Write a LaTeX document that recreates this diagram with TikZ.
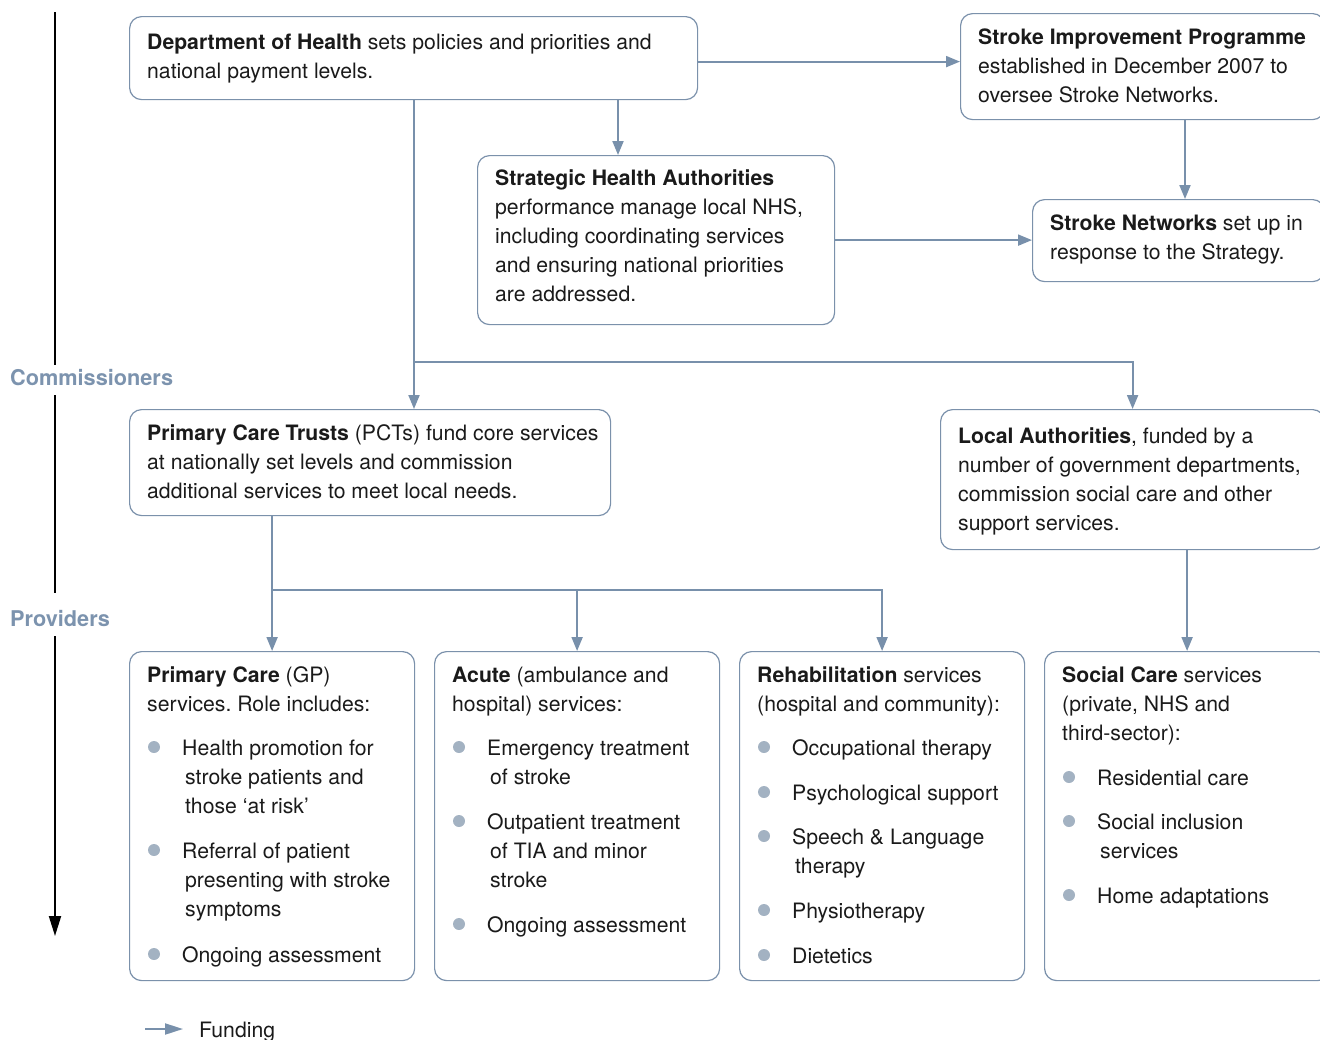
\documentclass[tikz,border=0pt]{standalone}
\usepackage{fontspec}
\setmainfont{TeX Gyre Heros}
\usetikzlibrary{arrows.meta}
\frenchspacing
\definecolor{bord}{HTML}{7B91AB}
\definecolor{arrc}{HTML}{7890AB}
\definecolor{labc}{HTML}{7C93AE}
\definecolor{bulc}{HTML}{A3B2C2}
\definecolor{txtc}{HTML}{1A1A1A}
\tikzset{
  box/.style={draw=bord, line width=1.2pt, rounded corners=12pt, anchor=north west, inner sep=0pt},
  txt/.style={anchor=base west, inner sep=0pt, align=left, text=txtc, font=\fontsize{21.2}{29}\selectfont\frenchspacing},
  flow/.style={draw=arrc, line width=2pt, -{Triangle[length=14pt,width=11pt]}},
  axis/.style={draw=black, line width=2pt},
  sidelab/.style={anchor=west, inner sep=0pt, text=labc, font=\fontsize{21.7}{24}\selectfont\bfseries},
  dot/.style={fill=bulc},
}
\newcommand{\cl}{\hspace*{3pt}}
\begin{document}
\begin{tikzpicture}[x=1pt,y=-1pt]
\useasboundingbox (0,0) rectangle (1320,1039);
\clip (0,0) rectangle (1320,1039);

% boxes
\node[box, minimum width=568, minimum height=83] (doh) at (129,16) {};
\node[box, minimum width=364, minimum height=106] (sip) at (960,13) {};
\node[box, minimum width=357, minimum height=169] (sha) at (477,155) {};
\node[box, minimum width=292, minimum height=82] (sn) at (1032,199) {};
\node[box, minimum width=481, minimum height=106] (pct) at (129,409) {};
\node[box, minimum width=384, minimum height=140] (la) at (940,409) {};
\node[box, minimum width=285, minimum height=329] (pc) at (129,651) {};
\node[box, minimum width=285, minimum height=329] (ac) at (434,651) {};
\node[box, minimum width=285, minimum height=329] (rh) at (739,651) {};
\node[box, minimum width=285, minimum height=329] (sc) at (1044,651) {};

% box texts (anchor = baseline of last line)
\node[txt] (tdoh) at (147,78) {\textbf{Department of Health} sets policies and priorities and\\national payment levels.};
\node[txt] (tsip) at (978,102) {\textbf{Stroke Improvement Programme}\\established in December 2007 to\\oversee Stroke Networks.};
\node[txt] (tsha) at (495,301) {\textbf{Strategic Health Authorities}\\performance manage local NHS,\\including coordinating services\\and ensuring national priorities\\are addressed.};
\node[txt] (tsn) at (1050,259) {\textbf{Stroke Networks} set up in\\response to the Strategy.};
\node[txt] (tpct) at (147,498) {\textbf{Primary Care Trusts} (PCTs) fund core services\\at nationally set levels and commission\\additional services to meet local needs.};
\node[txt] (tla) at (958,530) {\textbf{Local Authorities}, funded by a\\number of government departments,\\commission social care and other\\support services.};

\node[txt] (tpc) at (147,711) {\textbf{Primary Care} (GP)\\services. Role includes:};
\node[txt] (pc1) at (182,813) {Health promotion for\\\cl stroke patients and\\\cl those ‘at risk’};
\node[txt] (pc2) at (182,916) {Referral of patient\\\cl presenting with stroke\\\cl symptoms};
\node[txt] (pc3) at (182,962) {Ongoing assessment};
\foreach \yy in {747,850,954} \fill[dot] (154,\yy) circle (6);

\node[txt] (tac) at (452,711) {\textbf{Acute} (ambulance and\\hospital) services:};
\node[txt] (ac1) at (487,784) {Emergency treatment\\\cl of stroke};
\node[txt] (ac2) at (487,887) {Outpatient treatment\\\cl of TIA and minor\\\cl stroke};
\node[txt] (ac3) at (487,932) {Ongoing assessment};
\foreach \yy in {747,821,924} \fill[dot] (459,\yy) circle (6);

\node[txt] (trh) at (757,711) {\textbf{Rehabilitation} services\\(hospital and community):};
\node[txt] (rh1) at (792,755) {Occupational therapy};
\node[txt] (rh2) at (792,800) {Psychological support};
\node[txt] (rh3) at (792,873) {Speech \& Language\\\cl therapy};
\node[txt] (rh4) at (792,918) {Physiotherapy};
\node[txt] (rh5) at (792,963) {Dietetics};
\foreach \yy in {747,792,836,910,955} \fill[dot] (764,\yy) circle (6);

\node[txt] (tsc) at (1062,740) {\textbf{Social Care} services\\(private, NHS and\\third-sector):};
\node[txt] (sc1) at (1097,785) {Residential care};
\node[txt] (sc2) at (1097,858) {Social inclusion\\\cl services};
\node[txt] (sc3) at (1097,903) {Home adaptations};
\foreach \yy in {777,821,895} \fill[dot] (1069,\yy) circle (6);

% side labels and axis
\node[sidelab] (comm) at (10,378) {Commissioners};
\node[sidelab] (prov) at (10,619) {Providers};
\coordinate (a0) at (55,12);
\coordinate (a1) at (55,365);
\coordinate (a2) at (55,395);
\coordinate (a3) at (55,593);
\coordinate (a4) at (55,636);
\coordinate (a5) at (55,936);
\draw[axis] (a0) -- (a1);
\draw[axis] (a2) -- (a3);
\draw[axis, -{Triangle[length=20pt,width=12pt]}] (a4) -- (a5);

% connectors
\coordinate (x618) at (618,0);
\coordinate (x414) at (414,0);
\coordinate (x1185) at (1185,0);
\coordinate (y362) at (0,362);
\coordinate (y590) at (0,590);
\draw[flow] ([yshift=-3.5pt]doh.east) -- ([yshift=-3.5pt]doh.east -| sip.west);
\draw[flow] (doh.south -| x618) -- (sha.north -| x618);
\draw[flow] (sip.south -| x1185) -- (sn.north -| x1185);
\draw[flow] (sha.east) -- (sha.east -| sn.west);
\draw[flow] (doh.south -| x414) -- (pct.north -| x414);
\draw[flow] (x414 |- y362) -| (la.north);
\draw[flow] (pct.south -| pc.north) -- (pc.north);
\draw[flow] (pc.north |- y590) -| (ac.north);
\draw[flow] (ac.north |- y590) -| (rh.north);
\draw[flow] (la.south -| sc.north) -- (sc.north);

% legend
\coordinate (lg0) at (145,1029);
\node[txt] (leg) at (199,1037) {Funding};
\draw[flow, -{Triangle[length=18pt,width=11pt]}] (lg0) -- ([xshift=-16pt]leg.base west |- lg0);
\end{tikzpicture}
\end{document}
